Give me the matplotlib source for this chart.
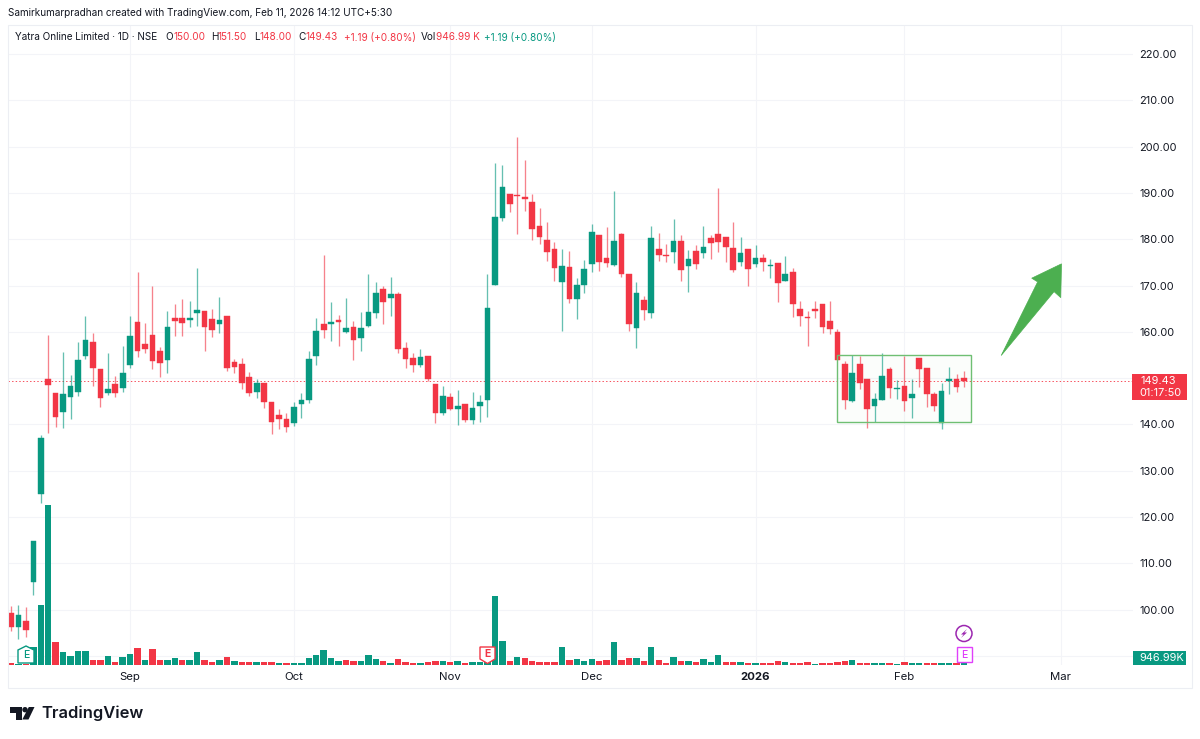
import matplotlib
matplotlib.use('Agg')
import matplotlib.pyplot as plt
from matplotlib.patches import Rectangle, Polygon, Circle

plt.rcParams['font.family'] = ['Inter', 'DejaVu Sans']

# daily candles, one row of ten per line
opens = [99.2,96.3,97.6,105.9,124.9,149.9,146.9,142.7,145.9,147,
	154.9,157.8,151.9,146.7,148.8,147.9,152.9,162.2,157.3,159.4,
	155.9,153.9,163,163,162.6,164.1,164.5,162.7,161.8,163.4,
	153.6,153.1,150.2,147.1,148.9,144.9,142,141.1,140.3,144.4,
	145.3,154.8,161.8,161.6,162.6,159.9,161.1,158.7,161.3,164,
	169.3,167.4,168.2,156.5,154.4,152.8,154.9,148.7,142.4,145.9,
	143.4,144.4,140.9,144,145.3,170.1,184.7,189.7,189.5,189.1,
	188.1,182.9,179.8,177.8,170.8,174,167,170.1,174.7,180.9,
	176,174.4,181.1,172.6,160.9,166.9,164,178,176.7,177.2,
	179.7,174.3,177.5,177,180.2,181.1,180.4,178.2,175.2,177.9,
	174.7,176,174.2,174.8,170.9,172.9,164.9,163.2,164.9,166,
	162.3,159.9,153.1,145.1,153,149.8,144.1,145.2,152,147.6,
	148.3,145.7,154.4,152.1,146.6,140.3,149.5,149.8,150]
highs = [100.8,101,100.5,114.8,137.7,159.3,146.9,155.7,150.7,157.8,
	163.4,159.8,151.9,155.4,150.5,157,163.4,172.9,162,170,
	156.8,164.6,166,167,166.7,173.7,164.5,165,167.5,163.4,
	154.1,154.3,151.3,149.8,148.9,144.9,143.3,142.4,144.9,146.9,
	155.9,162.9,176.6,166.4,163.6,167.3,162.4,164.4,172.4,170.8,
	169.9,171.9,168.7,157.9,155.4,156.2,154.9,148.7,148.3,146.7,
	147.5,144.4,147,146.4,172.4,196.4,196,189.7,202,197.1,
	189.7,186.7,183.8,179.5,177.8,177.5,171.6,175.5,183.3,180.9,
	182.6,190.5,181.4,172.6,170.8,167.8,182.9,181.4,178.9,184.4,
	180.9,177.7,178.8,182.9,180.9,191,180.4,183.7,180.6,177.9,
	178.8,176.8,175.8,174.8,176.3,173.9,166.7,164.5,166.7,166,
	166.7,160.7,153.7,155.1,154.9,149.8,146.9,155.5,152.5,149.6,
	154.9,149.8,154.4,152.1,147,148.9,152.4,150.9,151.5]
lows = [95.4,93.7,94.2,103.1,123,138.1,139.4,139.2,141.1,146.2,
	154.1,148.4,143.7,146.4,146,147.1,152.1,154.5,155.5,152,
	150.3,151.1,159.2,159.2,161.1,161.3,155.9,158.8,159.7,151.6,
	151.2,147.6,146.2,145.7,143.6,137.9,139,138.3,139.7,141.3,
	144.7,152.9,158.6,158.1,157,159.7,153.9,155.9,161.1,163.1,
	161.7,163.4,155.5,152.3,151.4,152.5,149.5,140.4,142,143.1,
	139.9,140.5,140.1,140.6,141.6,170.1,184,185.8,181.1,186.2,
	179.8,179,175.4,171,160.3,166.3,162.8,168.3,173,173.2,
	174,174.2,171.8,160.3,156.6,162.6,163.1,175.4,175.2,174.8,
	171,168.6,173.6,176,175.7,177.3,175.2,173,174.2,170,
	174.1,173.2,171.7,166.4,170.9,163.3,161.3,157,163.1,159.8,
	159.5,153.9,143.4,144.9,147.7,139.3,140.5,145.2,145.8,145.4,
	142.9,141.3,148,143.7,143,139,146.6,147.1,148]
closes = [96.2,98.9,95.6,114.8,137,148.6,141.6,146.6,148.4,153.9,
	158.2,152.2,145.8,147.7,146.7,151.2,159.2,155.9,156.3,153.8,
	153.2,161.1,162.3,162,162.9,164.7,161.1,160.4,162.6,152.2,
	152.4,149,146.7,148.9,144.9,140.5,141.1,139.5,143.8,145.3,
	154.2,160.3,160.4,162.1,162.1,160.8,158.2,160.9,164.4,168.4,
	166.5,168.1,156.2,154.2,152.8,154.5,149.8,142.5,146.1,143.4,
	144,141,143.6,144.9,165.2,184.8,191.4,187.6,189.3,188.6,
	182.2,180.4,177.3,173.7,174.2,167,170.1,173.6,181.6,175.2,
	174.9,179.6,172.5,161.6,168.3,164.7,180.3,176.7,176.4,179.7,
	173.3,175.8,174.7,178.3,179.2,179.4,178.4,173.4,177.1,173.6,
	176,175,174.5,170.5,172.6,166,163.5,163,164.6,161.1,
	160.7,153.9,145.2,151.2,149,143.4,145.6,150.5,147.8,147.9,
	145,146.5,152,146.5,143.9,147.3,149.8,148.2,149.43]

# volume in millions, colour flag is kept apart (1 = green)
volumes = [0.95,0.73,0.73,12.6,43.1,116.6,16.3,8.8,6.1,9.5,
	10,3.4,3.1,6.4,2,5.6,7.8,12.2,3.4,11.5,
	3.4,3.1,4.4,3.4,3.1,9.3,3.4,2,3.4,5.3,
	2.2,2,2,1.7,1.7,2,0.95,1.1,1.1,1.1,
	4.4,6.6,10.4,4.4,2.4,3.1,2.2,2.4,6.6,3.7,
	2.2,1.2,3.7,2,1.2,0.95,1.5,2.4,2.2,1.5,
	2.9,0.95,1.7,1.5,1.5,49.9,17,2.7,5.6,4.9,
	2.9,1.7,1.7,1.7,12.9,3.4,3.7,2.4,4.2,2.4,
	3.4,16.6,3.1,4.9,4.9,2.2,12.9,3.4,1.2,5.6,
	2.4,2.7,1.7,3.9,1.5,6.6,1.7,1.7,2,1.2,
	1.2,0.95,0.95,2.2,1.5,1.2,1.2,2,0.73,0.95,
	0.95,1.5,2.2,3.1,1.2,1.2,0.95,0.95,0.95,0.73,
	1.5,0.95,0.95,0.95,0.95,1.2,1.2,0.95,0.947]
vol_up = [0,1,0,1,1,1,0,1,1,1,
	1,0,0,1,0,1,1,0,1,0,
	0,1,1,0,1,1,0,0,1,0,
	1,0,0,1,0,0,1,0,1,1,
	1,1,1,1,1,0,0,1,1,1,
	0,1,0,0,0,1,0,0,1,0,
	1,0,1,1,1,1,1,0,1,0,
	0,0,0,0,1,0,1,1,1,0,
	0,1,0,0,1,0,1,0,0,1,
	0,1,0,1,1,1,0,0,1,0,
	1,0,0,0,1,0,0,0,1,0,
	0,0,0,1,0,0,1,1,0,1,
	0,1,1,0,0,1,1,0,1]

month_pos = [16, 38, 59, 78, 100, 120, 141]
month_labels = ['Sep', 'Oct', 'Nov', 'Dec', '2026', 'Feb', 'Mar']
price_ticks = [90, 100, 110, 120, 130, 140, 150, 160, 170, 180, 190, 200, 210, 220]
last_price = 149.43

GREEN = '#089981'
RED = '#f23645'
GRID = '#f3f4f8'
TEXT = '#131722'

n = len(closes)
x = list(range(n))

fig = plt.figure(figsize=(12, 7.39), dpi=100)

# pane edges in pixels, 4.63 px per rupee, 7.445 px per bar
L, R, T, B = 8, 1133, 25, 664.5
ax = fig.add_axes([L/1200, 1-B/739, (R-L)/1200, (B-T)/739])
ax.set_xlim((L-11)/7.445, (R-11)/7.445)
ax.set_ylim(140+(424.5-B)/4.63, 140+(424.5-T)/4.63)
for s in ax.spines.values():
	s.set_visible(False)

# volume on its own hidden scale
vol = ax.twinx()
vol.set_ylim(0, (B-T)*0.73)
vol.set_yticks([])
for s in vol.spines.values():
	s.set_visible(False)
vol.bar(x, volumes, width=0.86, color=[GREEN if u else RED for u in vol_up])

# wicks and bodies
wick_col = [GREEN if c >= o else RED for o, c in zip(opens, closes)]
ax.vlines(x, lows, highs, colors=wick_col, lw=0.95, alpha=0.62, zorder=3)
ax.bar(x, [abs(c-o) for o, c in zip(opens, closes)], bottom=[min(o, c) for o, c in zip(opens, closes)],
	width=0.76, color=wick_col, edgecolor=wick_col, lw=0.3, zorder=4)

ax.axhline(last_price, color='#f7525f', lw=0.72, ls=(0, (1.4, 2.2)), zorder=2)

# twinx puts the main ticks back on the left, so this has to come after it
ax.yaxis.tick_right()
ax.set_yticks(price_ticks)
ax.set_yticklabels([''] + ['%.2f' % p for p in price_ticks[1:]], fontsize=7.9, color=TEXT)
ax.set_xticks(month_pos)
ax.set_xticklabels(month_labels, fontsize=8.2, color=TEXT)
ax.get_xticklabels()[4].set_fontweight('bold')
ax.tick_params(axis='both', length=0)
ax.tick_params(axis='y', pad=4.3)
ax.tick_params(axis='x', pad=5.3)
ax.grid(True, color=GRID, lw=0.8)
ax.set_axisbelow(True)

# consolidation box and target arrow, in chart coordinates
ax.add_patch(Rectangle((111, 140.5), 18, 14.6, fc='#4caf50', alpha=0.02, ec='none', zorder=1))
ax.add_patch(Rectangle((111, 140.5), 18, 14.6, fc='none', ec='#6fbf73', lw=1, zorder=5))
ax.add_patch(Polygon([(133, 154.9), (137.9, 170.8), (137.1, 171.6), (141.1, 174.7),
	(141, 167.4), (140.1, 168.7)], closed=True, fc='#4caf50', ec='#4caf50', lw=0.5, zorder=6))

# overlay in pixels for header, labels and badges
ov = fig.add_axes([0, 0, 1, 1], zorder=10)
ov.set_xlim(0, 1200)
ov.set_ylim(739, 0)
ov.axis('off')
ov.add_patch(Rectangle((8, 25), 1184, 663, fc='none', ec='#eceef3', lw=0.8))

ov.text(8, 13, 'Samirkumarpradhan created with TradingView.com, Feb 11, 2026 14:12 UTC+5:30',
	fontsize=7.2, color=TEXT, va='center')
header = [(15, 'Yatra Online Limited · 1D · NSE', TEXT), (165, 'O', TEXT), (173, '150.00', RED),
	(211, 'H', TEXT), (218, '151.50', RED), (254, 'L', TEXT), (260, '148.00', RED),
	(298, 'C', TEXT), (305, '149.43', RED), (344, '+1.19 (+0.80%)', RED),
	(421, 'Vol', TEXT), (436, '946.99 K', RED), (484, '+1.19 (+0.80%)', GREEN)]
for hx, txt, col in header:
	ov.text(hx, 37.5, txt, fontsize=7.2, color=col, va='center')

# price and volume tags on the axis
ov.add_patch(Rectangle((1132, 374), 55, 26, fc=RED, ec='none'))
ov.text(1140, 381, '149.43', fontsize=7.9, color='white', va='center')
ov.text(1139, 393, '01:17:50', fontsize=7.9, color='white', va='center')
ov.add_patch(Rectangle((1133, 651), 53, 14, fc=GREEN, ec='none'))
ov.text(1139, 658, '946.99K', fontsize=7.9, color='white', va='center')

# earnings and dividend badges
ov.add_patch(Polygon([(18, 657), (18, 650), (26, 646), (34, 650), (34, 663), (18, 663)], closed=True,
	fc='white', ec=GREEN, lw=1))
ov.text(26, 655, 'E', fontsize=7.5, color=GREEN, ha='center', va='center', fontweight='medium')
ov.add_patch(Polygon([(480, 647), (495, 647), (495, 659), (487.5, 663.5), (480, 659)], closed=True,
	fc='white', ec=RED, lw=1))
ov.text(487.5, 654, 'E', fontsize=7.5, color=RED, ha='center', va='center', fontweight='bold')
ov.add_patch(Rectangle((956.5, 647), 15, 15, fc='white', ec='#e040fb', lw=1))
ov.text(964, 654.5, 'E', fontsize=7.5, color='#e040fb', ha='center', va='center', fontweight='medium')
ov.add_patch(Circle((964, 633.5), 8, fc='white', ec='#9c27b0', lw=1.1))
ov.add_patch(Polygon([(967, 629), (961, 634.5), (963.6, 634.5), (961, 638), (967, 632.5), (964.4, 632.5)],
	closed=True, fc='#9c27b0', ec='none'))

# logo
ov.add_patch(Polygon([(10, 707), (21.5, 707), (21.5, 719.5), (16, 719.5), (16, 713), (10, 713)], closed=True, fc=TEXT, ec='none'))
ov.add_patch(Circle((25, 709.7), 2.7, fc=TEXT, ec='none'))
ov.add_patch(Polygon([(28.8, 707), (34.5, 707), (28.5, 719.5), (22.3, 719.5)], closed=True, fc=TEXT, ec='none'))
ov.text(41, 713.5, 'TradingView', fontsize=11.9, color=TEXT, va='center', fontweight='semibold')

fig.savefig('out.png', dpi=100)
